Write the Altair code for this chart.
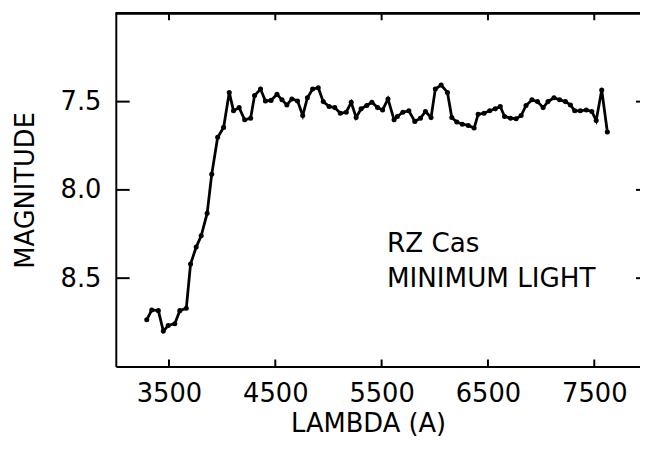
import altair as alt
import pandas as pd

# Spectrum of RZ Cas at minimum light
lam = [3291, 3338, 3400, 3447, 3493, 3555, 3602, 3663, 3703, 3756, 3803, 3859,
       3902, 3958, 4014, 4067, 4107, 4160, 4212, 4268, 4305, 4361, 4407, 4460,
       4516, 4563, 4609, 4656, 4709, 4758, 4802, 4851, 4904, 4951, 5006, 5059,
       5112, 5167, 5214, 5260, 5307, 5360, 5409, 5462, 5509, 5560, 5617,
       5648, 5700, 5756, 5812, 5865, 5912, 5965, 6005, 6060, 6119, 6160, 6207,
       6259, 6315, 6370, 6408, 6463, 6516, 6569, 6616, 6656, 6712, 6765, 6812,
       6858, 6914, 6966, 7019, 7065, 7121, 7174, 7229, 7276, 7316, 7369, 7425,
       7477, 7518, 7570, 7623]
mag = [8.736, 8.68, 8.684, 8.80, 8.768, 8.758, 8.684, 8.67, 8.42, 8.324, 8.26, 8.133,
       7.912, 7.702, 7.646, 7.448, 7.552, 7.534, 7.603, 7.594, 7.466, 7.429, 7.496, 7.493,
       7.459, 7.49, 7.519, 7.485, 7.496, 7.579, 7.478, 7.429, 7.421, 7.50, 7.528, 7.534,
       7.566, 7.56, 7.504, 7.59, 7.541, 7.522, 7.504, 7.534, 7.547, 7.485, 7.603,
       7.584, 7.56, 7.552, 7.612, 7.594, 7.556, 7.59, 7.429, 7.406, 7.448, 7.59, 7.616,
       7.628, 7.635, 7.65, 7.571, 7.566, 7.552, 7.541, 7.528, 7.584, 7.594, 7.597, 7.579,
       7.522, 7.49, 7.50, 7.534, 7.50, 7.478, 7.49, 7.50, 7.519, 7.552, 7.552, 7.547,
       7.556, 7.607, 7.434, 7.672]

x_ticks = [3500, 4500, 5500, 6500, 7500]
y_ticks = [7.5, 8.0, 8.5]

note_text = ["RZ Cas", "MINIMUM LIGHT"]
note_lam = [5550, 5550]
note_mag = [8.354, 8.551]

W, H = 530, 357
FONT = "DejaVu Sans"
FS = 26

df = pd.DataFrame({"lam": lam, "mag": mag})
xt = pd.DataFrame({"v": x_ticks})
yt = pd.DataFrame({"v": y_ticks})
notes = pd.DataFrame({"t": note_text, "x": note_lam, "y": note_mag})

xscale = alt.Scale(domain=[3000, 7930], nice=False, zero=False)
yscale = alt.Scale(domain=[7.0, 9.0], reverse=True, nice=False, zero=False)

xaxis = alt.Axis(
    values=x_ticks, format="d", title="LAMBDA  (A)", ticks=False,
    grid=False, domainColor="black", domainWidth=2,
    labelFont=FONT, labelFontSize=FS, labelColor="black",
    labelPadding=14, labelFlush=False,
    titleFont=FONT, titleFontSize=FS, titleFontWeight="normal", titleColor="black",
    titleBaseline="alphabetic", titleAlign="center", titleX=W / 2 - 10, titleY=66)
yaxis = alt.Axis(
    values=y_ticks, format=".1f", title="MAGNITUDE", ticks=False,
    grid=False, domainColor="black", domainWidth=2,
    labelFont=FONT, labelFontSize=FS, labelColor="black", labelPadding=15,
    titleFont=FONT, titleFontSize=FS, titleFontWeight="normal", titleColor="black",
    titlePadding=22)

line = alt.Chart(df).mark_line(
    color="black", strokeWidth=2.8,
    point=alt.OverlayMarkDef(filled=True, color="black", size=26),
).encode(
    x=alt.X("lam:Q", scale=xscale, axis=xaxis),
    y=alt.Y("mag:Q", scale=yscale, axis=yaxis),
    order="lam:Q",
)

rule_style = dict(color="black", strokeWidth=2)

top_line = alt.Chart(xt).mark_rule(**rule_style).encode(
    x=alt.value(0), x2=alt.value(W), y=alt.value(0))
bottom_ticks = alt.Chart(xt).mark_rule(**rule_style).encode(
    x=alt.X("v:Q", scale=xscale, axis=xaxis), y=alt.value(H), y2=alt.value(H - 7))
top_ticks = alt.Chart(xt).mark_rule(**rule_style).encode(
    x=alt.X("v:Q", scale=xscale, axis=xaxis), y=alt.value(0), y2=alt.value(7))
left_ticks = alt.Chart(yt).mark_rule(**rule_style).encode(
    y=alt.Y("v:Q", scale=yscale, axis=yaxis), x=alt.value(1), x2=alt.value(14))
right_ticks = alt.Chart(yt).mark_rule(**rule_style).encode(
    y=alt.Y("v:Q", scale=yscale, axis=yaxis), x=alt.value(W - 4), x2=alt.value(W))

note = alt.Chart(notes).mark_text(
    align="left", baseline="alphabetic", font=FONT, fontSize=26.5, color="black"
).encode(
    x=alt.X("x:Q", scale=xscale, axis=xaxis),
    y=alt.Y("y:Q", scale=yscale, axis=yaxis),
    text="t:N",
)

chart = alt.layer(
    line, top_line, bottom_ticks, top_ticks, left_ticks, right_ticks, note
).properties(
    width=W, height=H,
    padding={"left": 109, "top": 3, "right": 0, "bottom": 74},
    autosize=alt.AutoSizeParams(type="none"),
    background="white",
).configure_view(stroke=None)

chart.save("out.html", embed_options={"renderer": "svg", "actions": False})
